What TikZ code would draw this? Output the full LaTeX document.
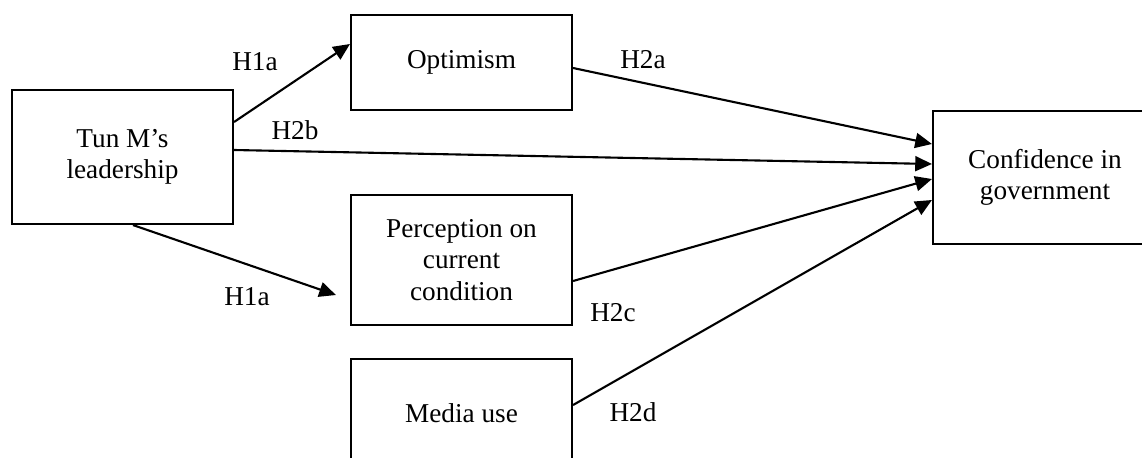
\documentclass[tikz,border=0pt]{standalone}
\usepackage{fontspec}
\setmainfont{Liberation Serif}
\usetikzlibrary{arrows.meta}
\begin{document}
\begin{tikzpicture}[font=\fontsize{15.5}{17.8}\selectfont,
	box/.style={draw, line width=1.2pt, minimum width=4.42cm, align=center},
	arr/.style={line width=1.2pt, -{Triangle[length=9.5pt, width=8.5pt]}}]
	\useasboundingbox (0,0) rectangle (22.84,9.14);
	\node[box, minimum height=2.68cm] (lead) at (2.45,6.0) {Tun M’s\\leadership};
	\node[box, minimum height=1.9cm] (opt) at (9.23,7.89) {Optimism};
	\node[box, minimum height=2.6cm] (perc) at (9.23,3.94) {Perception on\\current\\condition};
	\node[box, minimum height=2.16cm] (media) at (9.23,0.88) {Media use};
	\node[box, minimum width=4.48cm, minimum height=2.66cm] (conf) at (20.9,5.59) {Confidence in\\government};
	\draw[arr] ([yshift=0.7cm]lead.east) -- ([yshift=0.37cm]opt.west);
	\draw[arr] ([yshift=0.14cm]lead.east) -- ([yshift=0.27cm]conf.west);
	\draw[arr] ([xshift=0.21cm]lead.south) -- ([xshift=-0.28cm, yshift=-0.7cm]perc.west);
	\draw[arr] ([yshift=-0.11cm]opt.east) -- ([yshift=0.67cm]conf.west);
	\draw[arr] ([yshift=-0.42cm]perc.east) -- ([yshift=-0.03cm]conf.west);
	\draw[arr] ([yshift=0.16cm]media.east) -- ([yshift=-0.45cm]conf.west);
	\node (h1a) at (5.10,7.90) {H1a};
	\node (h2b) at (5.90,6.54) {H2b};
	\node (h1alow) at (4.94,3.20) {H1a};
	\node (h2a) at (12.86,7.94) {H2a};
	\node (h2c) at (12.26,2.88) {H2c};
	\node (h2d) at (12.66,0.90) {H2d};
\end{tikzpicture}
\end{document}
